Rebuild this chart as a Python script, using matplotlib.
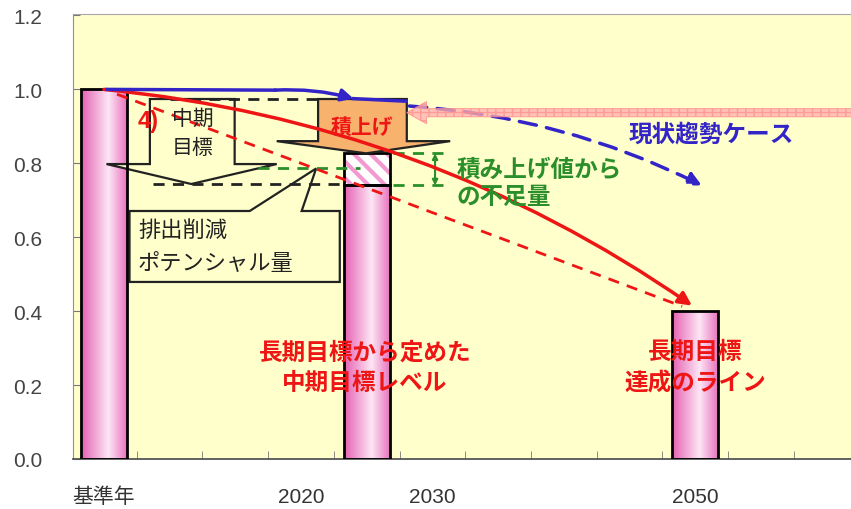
import numpy as np
import matplotlib
matplotlib.use('Agg')
import matplotlib.pyplot as plt
from matplotlib.patches import Polygon, FancyArrowPatch, FancyArrow
from matplotlib.colors import LinearSegmentedColormap

plt.rcParams['font.family'] = ['Noto Sans CJK JP', 'DejaVu Sans']

# 排出量（基準年 = 1.0）
bar_x = [0, 4, 9]
bar_val = [1.00, 0.74, 0.40]
tsumiage_val = 0.827          # 積上げ値（2025年）
potential_val = 0.786         # 排出削減ポテンシャル量
tick_pos = [0, 3, 5, 9]
tick_labels = ['基準年', '2020', '2030', '2050']

# 現状趨勢ケース
trend_x = [0.05, 2.6, 3.8, 4.6]
trend_y = [1.00, 0.998, 0.975, 0.968]
trend_future_x = [4.65, 9.1]
trend_future_y = [0.955, 0.74]
# 長期目標達成のライン
goal_x = [0.0, 8.95]
goal_y = [1.00, 0.415]
goal_lin_x = [0.2, 8.8]
goal_lin_y = [0.987, 0.413]

RED = '#ee1515'
BLUE = '#3324c8'
GREEN = '#2a8f2a'

fig = plt.figure(figsize=(8.51, 5.10), dpi=100)
ax = fig.add_axes([73 / 851, 50 / 510, 1 - 73 / 851, 445 / 510])
ax.set_facecolor('#ffffcc')

# 棒（ピンクのグラデーション）
cmap = LinearSegmentedColormap.from_list(
    'bar', [(0, '#e560b2'), (0.6, '#fde6f5'), (1, '#e874be')])
grad = np.linspace(0, 1, 256).reshape(1, -1)
bars = ax.bar(bar_x, bar_val, width=0.7, facecolor='none',
              edgecolor='black', linewidth=2, zorder=3)
for b in bars:
    x0, y0, w, h = b.get_x(), b.get_y(), b.get_width(), b.get_height()
    im = ax.imshow(grad, extent=[x0, x0 + w, y0, y0 + h], aspect='auto',
                   cmap=cmap, zorder=2, interpolation='bilinear')
    im.set_clip_path(b)

# 積上げ値からの不足分（斜線）
with plt.rc_context({'hatch.linewidth': 3.0}):
    ax.bar(bar_x[1], tsumiage_val - bar_val[1], bottom=bar_val[1], width=0.7,
           facecolor='white', edgecolor='#f29ad0', hatch='\\\\', linewidth=0,
           zorder=2)
ax.bar(bar_x[1], tsumiage_val - bar_val[1], bottom=bar_val[1], width=0.7,
       facecolor='none', edgecolor='black', linewidth=2, zorder=3)

# 補助の点線
dash = dict(linestyle=(0, (4, 3)), linewidth=2)
ax.plot([1.0, 4.6], [0.974, 0.974], color='#222222', zorder=3, **dash)
ax.plot([0.75, 3.65], [0.745, 0.745], color='#222222', zorder=3, **dash)
ax.plot([2.35, 3.9], [potential_val, potential_val], color=GREEN, zorder=3,
        **dash)
ax.plot([4.4, 5.25], [tsumiage_val, tsumiage_val], color=GREEN, zorder=3, **dash)
ax.plot([4.4, 5.25], [bar_val[1], bar_val[1]], color=GREEN, zorder=3, **dash)
ax.annotate('', xy=(5.04, tsumiage_val), xytext=(5.04, bar_val[1]),
            arrowprops=dict(arrowstyle='<|-|>', color=GREEN, lw=1.5,
                            mutation_scale=8, shrinkA=0, shrinkB=0), zorder=3)

# 中期目標の矢印
mid_arrow = [(0.70, 0.974), (1.99, 0.974), (1.99, 0.798), (2.63, 0.798),
             (1.33, 0.744), (0.04, 0.798), (0.70, 0.798)]
ax.add_patch(Polygon(mid_arrow, closed=True, facecolor='#ffffcc',
                     edgecolor='#222222', linewidth=1.6, zorder=2.5))

# 積上げの矢印
up_arrow = [(3.26, 0.974), (4.61, 0.974), (4.61, 0.86), (5.27, 0.86),
            (3.99, tsumiage_val), (2.63, 0.86), (3.26, 0.86)]
ax.add_patch(Polygon(up_arrow, closed=True, facecolor='#f7b26e',
                     edgecolor='#222222', linewidth=1.6, zorder=3.5))

# 排出削減ポテンシャル量の吹き出し
callout = [(0.39, 0.671), (2.22, 0.671), (3.23, potential_val), (3.01, 0.671),
           (3.59, 0.671), (3.59, 0.479), (0.39, 0.479)]
ax.add_patch(Polygon(callout, closed=True, facecolor='#ffffcc',
                     edgecolor='#222222', linewidth=1.6, zorder=2.5))

# 長期目標の線
ax.plot(goal_lin_x, goal_lin_y, color=RED, linestyle=(0, (4, 3)),
        linewidth=2, zorder=4)
ax.add_patch(FancyArrowPatch((goal_x[0], goal_y[0]), (goal_x[1], goal_y[1]),
                             connectionstyle='arc3,rad=-0.13',
                             arrowstyle='-|>', mutation_scale=20,
                             color=RED, linewidth=2.5, shrinkA=0, shrinkB=0,
                             zorder=4.5))

# 現状趨勢ケース
ax.plot(trend_x[:2], trend_y[:2], color=BLUE, linewidth=2.5, zorder=4.6)
ax.add_patch(FancyArrowPatch((trend_x[1], trend_y[1]), (trend_x[2], trend_y[2]),
                             connectionstyle='arc3,rad=-0.08',
                             arrowstyle='-|>', mutation_scale=18,
                             color=BLUE, linewidth=2.5, shrinkA=0, shrinkB=0,
                             zorder=4.6))
ax.plot(trend_x[2:], trend_y[2:], color=BLUE, linewidth=2.5, zorder=4.6)
ax.add_patch(FancyArrowPatch((trend_future_x[0], trend_future_y[0]),
                             (trend_future_x[1], trend_future_y[1]),
                             connectionstyle='arc3,rad=-0.1',
                             arrowstyle='-|>', mutation_scale=20,
                             color=BLUE, linewidth=2.5, linestyle=(0, (5, 3)),
                             shrinkA=0, shrinkB=0, zorder=4.6))

# 右からのピンクの矢印
ax.add_patch(FancyArrow(11.5, 0.937, 4.61 - 11.5, 0, width=0.022,
                        head_width=0.06, head_length=0.3,
                        length_includes_head=True, facecolor='#ffb0b0',
                        edgecolor='#ff8c8c', hatch='++', linewidth=0.8,
                        alpha=0.75, zorder=5))

# 文字
ax.text(0.67, 0.917, '4)', color=RED, fontsize=17, fontweight='bold',
        family=['Liberation Sans', 'DejaVu Sans'], ha='center', va='center',
        zorder=6)
ax.text(1.35, 0.923, '中期', fontsize=15, color='#222222', ha='center',
        va='center', zorder=6)
ax.text(1.35, 0.845, '目標', fontsize=15, color='#222222', ha='center',
        va='center', zorder=6)
ax.text(3.93, 0.90, '積上げ', fontsize=15, color=RED, fontweight='bold',
        ha='center', va='center', zorder=6)
ax.text(0.52, 0.622, '排出削減', fontsize=16, color='#222222', ha='left',
        va='center', zorder=6)
ax.text(0.52, 0.533, 'ポテンシャル量', fontsize=16, color='#222222',
        ha='left', va='center', zorder=6)
ax.text(3.97, 0.290, '長期目標から定めた', fontsize=17, color=RED,
        fontweight='bold', ha='center', va='center', zorder=6)
ax.text(3.97, 0.208, '中期目標レベル', fontsize=17, color=RED,
        fontweight='bold', ha='center', va='center', zorder=6)
ax.text(9.0, 0.292, '長期目標', fontsize=17, color=RED, fontweight='bold',
        ha='center', va='center', zorder=6)
ax.text(9.0, 0.208, '達成のライン', fontsize=17, color=RED, fontweight='bold',
        ha='center', va='center', zorder=6)
ax.text(9.25, 0.88, '現状趨勢ケース', fontsize=17, color=BLUE,
        fontweight='bold', ha='center', va='center', zorder=6)
ax.text(5.37, 0.785, '積み上げ値から', fontsize=17, color=GREEN,
        fontweight='bold', ha='left', va='center', zorder=6)
ax.text(5.37, 0.712, 'の不足量', fontsize=17, color=GREEN,
        fontweight='bold', ha='left', va='center', zorder=6)

# 軸
ax.set_xlim(-0.47, 11.37)
ax.set_ylim(0, 1.204)
ax.set_yticks([0.0, 0.2, 0.4, 0.6, 0.8, 1.0, 1.2])
ax.set_yticklabels(['0.0', '0.2', '0.4', '0.6', '0.8', '1.0', '1.2'],
                   family=['Liberation Sans', 'DejaVu Sans'])
ax.set_xticks(tick_pos)
ax.set_xticklabels(tick_labels,
                   family=['Liberation Sans', 'Noto Sans CJK JP'])
ax.set_xticks(np.arange(0.5, 11, 1), minor=True)
ax.tick_params(axis='x', which='major', length=0, pad=20, labelsize=15,
               labelcolor='#333333')
ax.tick_params(axis='x', which='minor', direction='in', length=6,
               color='#777777')
ax.tick_params(axis='y', direction='in', length=5, pad=22, labelsize=15,
               labelcolor='#444444', color='#777777')
ax.spines['right'].set_visible(False)
ax.spines['top'].set_color('#a8a8a8')
ax.spines['left'].set_color('#909090')
ax.spines['bottom'].set_color('#555555')
ax.spines['bottom'].set_linewidth(1.3)

fig.savefig('out.png', dpi=100, facecolor='white')
